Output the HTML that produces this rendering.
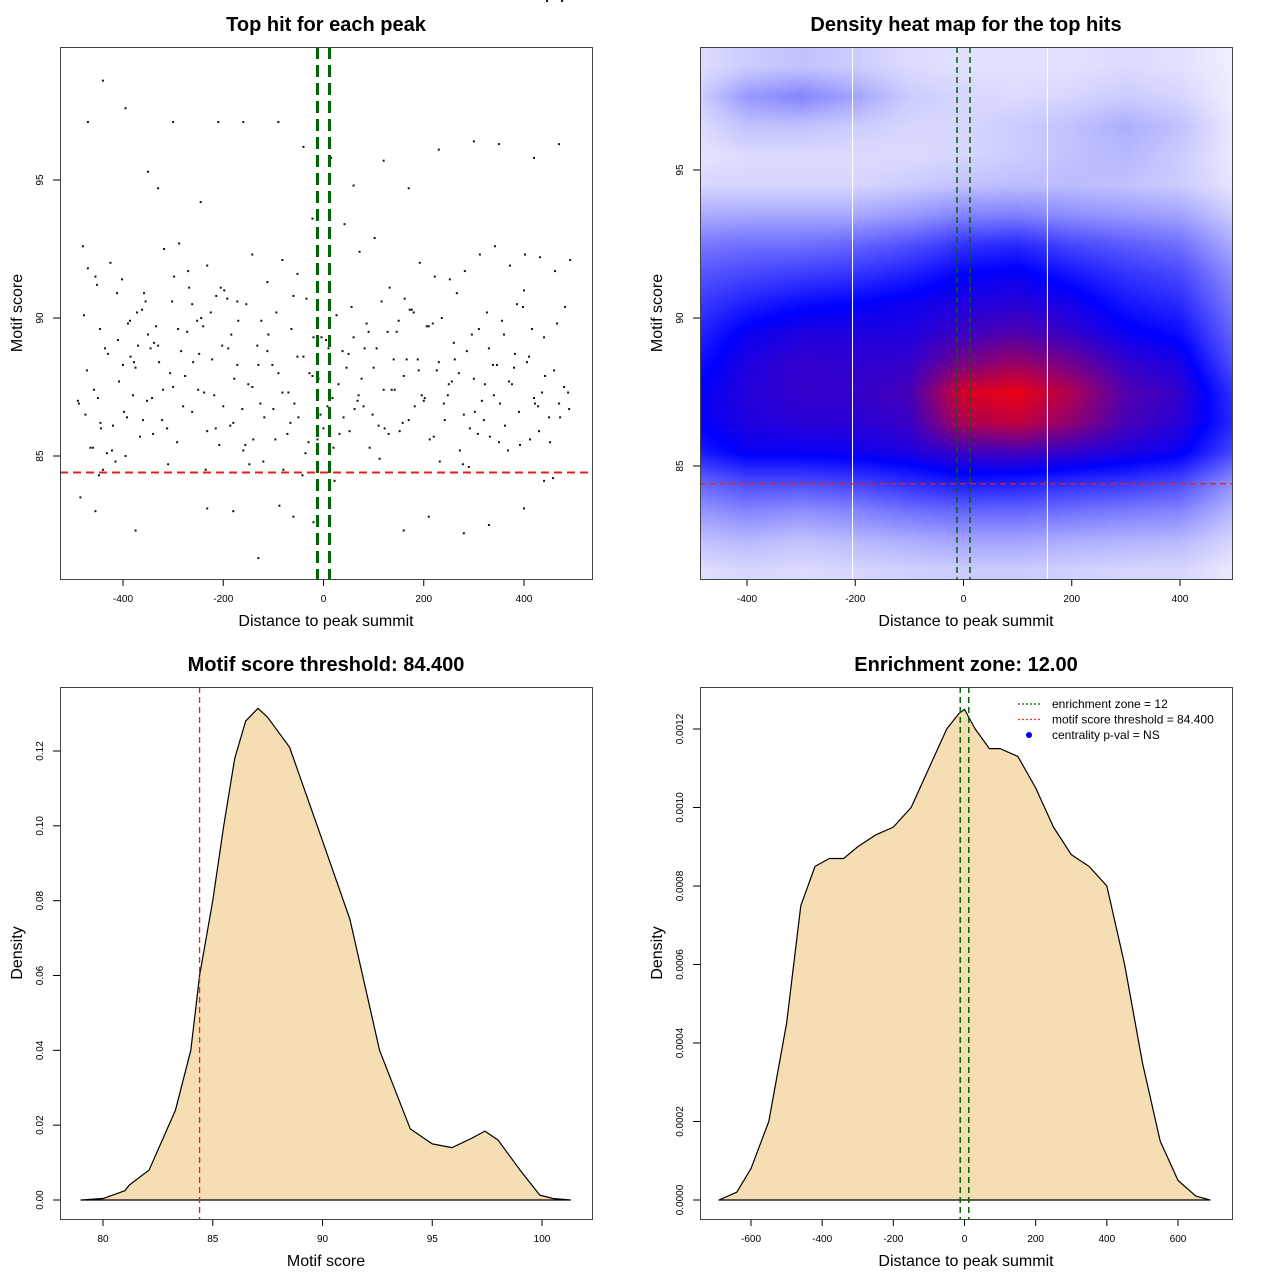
<!DOCTYPE html>
<html><head><meta charset="utf-8">
<style>
html,body{margin:0;padding:0;background:#fff;}
#wrap{position:relative;width:1280px;height:1280px;font-family:"Liberation Sans",sans-serif;}
svg{position:absolute;left:0;top:0;}
canvas{position:absolute;left:700px;top:47px;}
</style></head>
<body>
<div id="wrap">
<canvas id="heat" width="532" height="532"></canvas>
<svg id="svg" width="1280" height="1280" xmlns="http://www.w3.org/2000/svg"></svg>
</div>
<script>
// ---------- data ----------
const scatterX = [-490,-475,-470,-460,-455,-450,-445,-440,-430,-420,-410,-400,-395,-390,-380,-370,-360,-355,-345,-340,-330,-320,-310,-300,-290,-280,-270,-260,-250,-240,-235,-225,-215,-205,-200,-190,-180,-170,-160,-150,-140,-130,-120,-110,-100,-90,-80,-70,-60,-50,-40,-30,-20,-10,0,10,20,30,40,50,60,70,80,90,100,110,120,130,140,150,160,170,180,190,200,210,220,230,240,250,260,270,280,290,300,310,320,330,340,350,360,370,380,390,400,410,420,430,440,450,460,470,480,490,
-485,-465,-448,-432,-415,-398,-385,-372,-358,-342,-328,-312,-298,-284,-268,-252,-238,-222,-208,-192,-178,-162,-148,-132,-118,-102,-88,-72,-58,-42,-28,-12,8,22,38,52,68,82,98,112,128,142,158,172,188,202,218,232,248,262,278,292,308,322,338,352,368,382,398,412,428,442,458,472,488,
-480,-452,-425,-402,-375,-350,-318,-288,-262,-232,-198,-172,-142,-112,-82,-52,-22,12,42,72,102,132,162,192,222,252,282,312,342,372,402,432,462,492,
-470,-440,-395,-350,-300,-245,-210,-160,-90,-40,15,60,120,170,230,300,350,420,470,
-455,-375,-330,-232,-180,-130,-60,-20,160,210,280,330,400,440,
-488,-472,-458,-444,-436,-422,-408,-392,-378,-366,-352,-338,-322,-306,-292,-276,-262,-248,-232,-218,-202,-186,-172,-156,-142,-126,-112,-96,-82,-66,-52,-36,-22,-6,5,18,32,46,62,76,92,106,122,136,152,166,182,196,212,226,242,256,272,286,302,316,332,346,362,376,392,406,422,436,452,466,482,
-478,-446,-412,-386,-362,-334,-302,-272,-244,-214,-184,-154,-124,-94,-64,-34,-4,26,56,86,116,146,176,206,236,266,296,326,356,386,416,446,476];
const scatterY = [87.0,86.5,91.8,85.3,91.5,87.1,86.2,84.5,88.7,86.1,89.2,88.3,85.0,89.8,87.2,89.0,86.3,90.6,88.9,85.8,89.0,87.4,84.7,87.5,89.6,86.8,91.7,88.4,87.4,89.7,84.5,90.2,86.0,91.1,86.8,88.9,86.2,89.9,85.2,87.6,85.6,88.3,84.8,89.4,86.7,88.0,84.5,87.3,90.8,86.4,88.6,85.5,89.3,87.8,86.0,88.9,85.3,87.6,86.4,88.7,89.3,87.2,86.8,89.5,88.2,86.1,87.4,85.8,88.5,89.9,87.9,86.3,90.2,88.1,87.0,89.7,85.7,88.4,86.9,87.6,89.1,88.0,86.5,84.6,87.8,89.6,86.3,88.9,87.2,85.5,89.4,87.7,88.2,86.6,91.0,88.6,87.1,85.9,89.3,86.4,88.1,86.9,87.5,86.7,
83.5,85.3,84.3,85.1,84.8,86.6,88.6,90.2,90.9,87.1,88.4,86.0,91.5,88.8,91.1,89.9,87.3,88.5,85.4,90.7,87.8,86.7,84.7,89.0,86.4,88.3,83.2,85.8,86.9,84.3,88.0,85.6,86.8,84.1,88.8,85.9,87.0,88.9,86.5,84.9,89.5,87.4,86.2,90.3,88.5,87.1,89.8,84.8,87.2,88.5,84.7,86.0,85.8,87.6,88.3,86.9,85.2,88.7,90.4,85.6,86.8,87.9,84.2,86.4,87.3,
92.6,91.2,92.0,91.4,88.2,89.4,92.5,92.7,90.5,91.9,91.0,90.6,92.3,91.3,92.1,91.6,93.6,91.8,93.4,92.4,92.9,91.1,90.7,92.0,91.5,91.4,91.7,92.3,92.6,91.9,92.3,92.2,91.7,92.1,
97.1,98.6,97.6,95.3,97.1,94.2,97.1,97.1,97.1,96.2,95.8,94.8,95.7,94.7,96.1,96.4,96.3,95.8,96.3,
83.0,82.3,94.7,83.1,83.0,81.3,82.8,82.6,82.3,82.8,82.2,82.5,83.1,84.1,
86.9,88.1,87.4,86.0,88.9,85.2,87.7,86.4,88.4,85.7,87.0,89.1,86.3,88.0,85.5,87.9,86.6,88.7,85.9,87.2,89.0,86.1,88.3,85.4,87.5,86.9,88.8,85.6,87.3,86.2,88.6,85.1,87.9,86.5,89.2,87.1,85.8,88.2,86.7,87.8,85.3,88.9,86.0,87.4,85.9,88.5,86.8,87.2,85.6,88.1,86.3,87.7,85.2,88.8,86.6,87.0,85.7,88.3,86.1,87.6,85.4,88.4,86.9,87.3,85.5,
89.8,90.4,90.1,89.6,90.9,89.9,90.3,89.7,90.6,89.5,90.0,90.8,89.4,90.5,89.9,90.2,89.6,90.7,89.3,90.1,90.4,89.8,90.6,89.5,90.3,89.7,90.0,90.9,89.4,90.2,89.9,90.5,89.6];
const densX = [79,80,81,81.2,82.1,83.3,84,84.4,85,85.5,86,86.5,87.06,87.5,88.5,90,91.25,92.6,94,95,95.9,96.8,97.4,98,99,99.9,100.5,101.3];
const densY = [0,0.0004,0.0025,0.004,0.008,0.024,0.04,0.06,0.08,0.1,0.118,0.128,0.1314,0.129,0.121,0.096,0.075,0.04,0.019,0.015,0.014,0.0165,0.0184,0.016,0.008,0.0013,0.0004,0];
const distX = [-690,-640,-600,-550,-500,-460,-420,-380,-340,-300,-250,-200,-150,-100,-50,-15,0,30,70,100,150,200,250,300,350,400,450,500,550,600,650,690];
const distY = [0,0.00002,0.00008,0.0002,0.00045,0.00075,0.00085,0.00087,0.00087,0.0009,0.00093,0.00095,0.001,0.0011,0.0012,0.00124,0.00125,0.0012,0.00115,0.00115,0.00113,0.00105,0.00095,0.00088,0.00085,0.0008,0.0006,0.00035,0.00015,0.00005,0.00001,0];
// heatmap grid: columns x = -500..500 step 100, rows y = 98.5 down to 81.5 step 1
const heatCols = [-500,-400,-300,-200,-100,0,100,200,300,400,500];
const heatRows = [98.5,97.5,96.5,95.5,94.5,93.5,92.5,91.5,90.5,89.5,88.5,87.5,86.5,85.5,84.5,83.5,82.5,81.5];
const heatVals = [
[0.06,0.10,0.12,0.10,0.07,0.06,0.06,0.06,0.07,0.06,0.03],
[0.08,0.20,0.24,0.18,0.10,0.08,0.07,0.08,0.10,0.08,0.03],
[0.06,0.12,0.12,0.10,0.08,0.08,0.10,0.12,0.16,0.12,0.04],
[0.05,0.07,0.07,0.07,0.07,0.08,0.10,0.12,0.14,0.10,0.04],
[0.08,0.08,0.08,0.08,0.10,0.12,0.13,0.13,0.12,0.10,0.05],
[0.16,0.17,0.17,0.17,0.20,0.24,0.25,0.22,0.20,0.18,0.10],
[0.26,0.28,0.28,0.30,0.34,0.40,0.42,0.36,0.32,0.28,0.16],
[0.33,0.36,0.38,0.40,0.44,0.50,0.52,0.46,0.40,0.36,0.22],
[0.38,0.44,0.48,0.50,0.53,0.56,0.58,0.54,0.46,0.42,0.26],
[0.42,0.52,0.56,0.56,0.56,0.62,0.66,0.60,0.52,0.48,0.30],
[0.46,0.56,0.60,0.59,0.60,0.74,0.80,0.72,0.60,0.55,0.34],
[0.50,0.57,0.60,0.60,0.64,0.92,0.96,0.84,0.66,0.60,0.40],
[0.50,0.56,0.58,0.58,0.61,0.84,0.88,0.78,0.64,0.58,0.42],
[0.44,0.52,0.52,0.53,0.56,0.62,0.64,0.60,0.56,0.52,0.36],
[0.30,0.36,0.36,0.38,0.42,0.46,0.45,0.42,0.40,0.36,0.22],
[0.20,0.24,0.22,0.24,0.28,0.30,0.30,0.28,0.26,0.24,0.14],
[0.12,0.14,0.12,0.14,0.16,0.18,0.18,0.16,0.15,0.14,0.08],
[0.06,0.08,0.07,0.08,0.09,0.10,0.10,0.09,0.08,0.08,0.04]];
const p1XTicks = [-400,-200,0,200,400];
const p1YTicks = [85,90,95];
const p3XTicks = [80,85,90,95,100];
const p3YTicks = [0,0.02,0.04,0.06,0.08,0.10,0.12];
const p3YLabels = ["0.00","0.02","0.04","0.06","0.08","0.10","0.12"];
const p4XTicks = [-600,-400,-200,0,200,400,600];
const p4YTicks = [0,0.0002,0.0004,0.0006,0.0008,0.0010,0.0012];
const p4YLabels = ["0.0000","0.0002","0.0004","0.0006","0.0008","0.0010","0.0012"];
const threshold = 84.4, zone = 12;

// ---------- helpers ----------
const NS="http://www.w3.org/2000/svg";
const svg=document.getElementById('svg');
function el(tag,attrs,parent,text){const e=document.createElementNS(NS,tag);for(const k in attrs)e.setAttribute(k,attrs[k]);if(text!==undefined)e.textContent=text;(parent||svg).appendChild(e);return e;}
function lin(d0,d1,r0,r1){return v=>r0+(v-d0)*(r1-r0)/(d1-d0);}

function panel(name,L,T,sx,sy,xt,xl,yt,yl,title,xlab,ylab){
  const g=el('g',{});
  
  
  const t=el('text',{x:L+266,y:T-16,'text-anchor':'middle','font-size':20,'font-weight':'bold'},g,title);
  
  const xa=el('g',{},g);
  xt.forEach((v,i)=>{const x=sx(v);el('line',{x1:x,x2:x,y1:T+532,y2:T+539,stroke:'#000'},xa);
    el('text',{x:x,y:T+555,'text-anchor':'middle','font-size':10},xa,xl[i]);});
  const ya=el('g',{},g);
  yt.forEach((v,i)=>{const y=sy(v);el('line',{x1:L-7,x2:L,y1:y,y2:y,stroke:'#000'},ya);
    el('text',{x:0,y:0,'text-anchor':'middle','font-size':10,transform:`translate(${L-17},${y}) rotate(-90)`},ya,yl[i]);});
  const xt2=el('text',{x:L+266,y:T+579,'text-anchor':'middle','font-size':16},g,xlab);
  
  const yt2=el('text',{x:0,y:0,'text-anchor':'middle','font-size':16,transform:`translate(${L-38},${T+266}) rotate(-90)`},g,ylab);
  
  return g;
}
function box(L,T,g){const b=el('rect',{x:L+0.5,y:T+0.5,width:532,height:532,fill:'none',stroke:'#444'},g);
  }

// ---------- panel 1: scatter ----------
{
  const L=60,T=47,sx=lin(-400,400,123,524),sy=lin(85,95,456,180);
  const g=panel('top-hit-scatter',L,T,sx,sy,p1XTicks,p1XTicks.map(String),p1YTicks,p1YTicks.map(String),'Top hit for each peak','Distance to peak summit','Motif score');
  const pts=el('g',{},g);
  for(let i=0;i<scatterX.length;i++){
    const c=el('rect',{x:sx(scatterX[i])-1,y:sy(scatterY[i])-1,width:2,height:2,fill:'#111'},pts);
    
  }
  const r=el('line',{x1:L,x2:L+532,y1:sy(threshold),y2:sy(threshold),stroke:'#e32020','stroke-width':2,'stroke-dasharray':'8,5'},g);
  
  [-zone,zone].forEach(z=>{const l=el('line',{x1:sx(z),x2:sx(z),y1:T,y2:T+532,stroke:'#006400','stroke-width':3,'stroke-dasharray':'12,6'},g);
    });
  box(L,T,g);
}

// ---------- panel 2: heatmap ----------
{
  const L=700,T=47,sx=lin(-400,400,747,1180),sy=lin(85,95,466,170);
  const cv=document.getElementById('heat'),ctx=cv.getContext('2d');
  const img=ctx.createImageData(532,532);
  const stops=[[0,[255,255,255]],[0.5,[0,0,255]],[1,[255,0,0]]];
  function col(v){v=Math.max(0,Math.min(1,v));for(let i=1;i<stops.length;i++){if(v<=stops[i][0]){const a=stops[i-1],b=stops[i],t=(v-a[0])/(b[0]-a[0]);return a[1].map((c,k)=>c+(b[1][k]-c)*t);}}return stops[stops.length-1][1];}
  for(let py=0;py<532;py++){
    const yv=85+(466-(T+py))/29.6;
    let fr=(heatRows[0]-yv); fr=Math.max(0,Math.min(heatRows.length-1.001,fr));
    const r0=Math.floor(fr),ry=fr-r0;
    for(let px=0;px<532;px++){
      const xv=(L+px-963)/0.5413;
      let fc=(xv-heatCols[0])/100; fc=Math.max(0,Math.min(heatCols.length-1.001,fc));
      const c0=Math.floor(fc),cx=fc-c0;
      const a=heatVals[r0][c0]*(1-cx)+heatVals[r0][c0+1]*cx;
      const b=heatVals[r0+1][c0]*(1-cx)+heatVals[r0+1][c0+1]*cx;
      const v=a*(1-ry)+b*ry;
      const c=col(v),i=(py*532+px)*4;
      img.data[i]=c[0];img.data[i+1]=c[1];img.data[i+2]=c[2];img.data[i+3]=255;
    }
  }
  ctx.putImageData(img,0,0);
  const g=panel('heatmap-panel',L,T,sx,sy,p1XTicks,p1XTicks.map(String),p1YTicks,p1YTicks.map(String),'Density heat map for the top hits','Distance to peak summit','Motif score');
  [-205,155].forEach(v=>{const l=el('line',{x1:sx(v),x2:sx(v),y1:T,y2:T+532,stroke:'#fff','stroke-width':1},g);
    });
  const r=el('line',{x1:L,x2:L+532,y1:sy(threshold),y2:sy(threshold),stroke:'#e32020','stroke-width':1.3,'stroke-dasharray':'6,4'},g);
  
  [-zone,zone].forEach(z=>{const l=el('line',{x1:sx(z),x2:sx(z),y1:T,y2:T+532,stroke:'#006400','stroke-width':1.5,'stroke-dasharray':'6,4'},g);
    });
  box(L,T,g);
}

// ---------- panel 3: motif score density ----------
{
  const L=60,T=687,sx=lin(80,100,103,542),sy=lin(0,0.12,1200,751);
  const g=panel('motif-score-density',L,T,sx,sy,p3XTicks,p3XTicks.map(String),p3YTicks,p3YLabels,'Motif score threshold: 84.400','Motif score','Density');
  let d='M'+sx(densX[0])+','+sy(0);
  densX.forEach((x,i)=>{d+=' L'+sx(x)+','+sy(densY[i]);});
  const a=el('path',{d:d+' Z',fill:'#f5deb3',stroke:'#000','stroke-width':1.2,'stroke-linejoin':'round'},g);
  
  const r=el('line',{x1:sx(threshold),x2:sx(threshold),y1:T,y2:T+532,stroke:'#e32020','stroke-width':1.3,'stroke-dasharray':'6,4'},g);
  
  box(L,T,g);
}

// ---------- panel 4: distance density ----------
{
  const L=700,T=687,sx=lin(-600,600,751,1178),sy=lin(0,0.0012,1200,729);
  const g=panel('distance-density',L,T,sx,sy,p4XTicks,p4XTicks.map(String),p4YTicks,p4YLabels,'Enrichment zone: 12.00','Distance to peak summit','Density');
  let d='M'+sx(distX[0])+','+sy(0);
  distX.forEach((x,i)=>{d+=' L'+sx(x)+','+sy(distY[i]);});
  const a=el('path',{d:d+' Z',fill:'#f5deb3',stroke:'#000','stroke-width':1.2,'stroke-linejoin':'round'},g);
  
  [-zone,zone].forEach(z=>{const l=el('line',{x1:sx(z),x2:sx(z),y1:T,y2:T+532,stroke:'#006400','stroke-width':1.5,'stroke-dasharray':'6,4'},g);
    });
  const lg=el('g',{},g);
  const items=[['#006400','line','enrichment zone = 12'],['#ff3030','line','motif score threshold = 84.400'],['#0000ff','dot','centrality p-val = NS']];
  items.forEach((it,i)=>{const y=704+i*15.5;
    const e=el('g',{},lg);
    if(it[1]==='line')el('line',{x1:1018,x2:1042,y1:y,y2:y,stroke:it[0],'stroke-width':1.2,'stroke-dasharray':'2,2'},e);
    else el('circle',{cx:1029,cy:y,r:3,fill:it[0]},e);
    el('text',{x:1052,y:y+4,'font-size':12},e,it[2]);});
  box(L,T,g);
}
</script>
</body></html>
